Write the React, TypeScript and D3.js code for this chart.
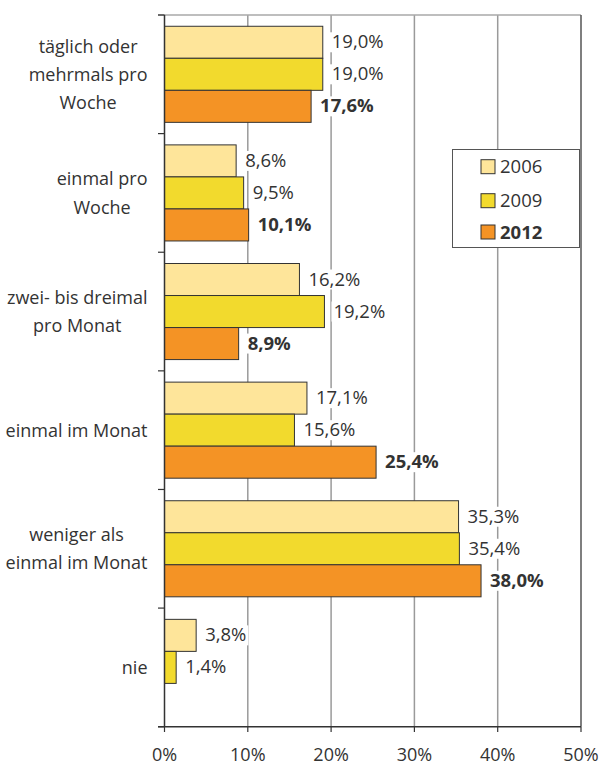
import React, { useEffect, useRef } from "react";
import * as d3 from "d3";

const categories: string[][] = [
  ["täglich oder", "mehrmals pro", "Woche"],
  ["einmal pro", "Woche"],
  ["zwei- bis dreimal", "pro Monat"],
  ["einmal im Monat"],
  ["weniger als", "einmal im Monat"],
  ["nie"],
];
const seriesNames = ["2006", "2009", "2012"];
const values2006 = [19.0, 8.6, 16.2, 17.1, 35.3, 3.8];
const values2009 = [19.0, 9.5, 19.2, 15.6, 35.4, 1.4];
const values2012: (number | null)[] = [17.6, 10.1, 8.9, 25.4, 38.0, null];
const xTicks = [0, 10, 20, 30, 40, 50];
const colors = ["#FEE59A", "#F2DA2D", "#F49325"];

const W = 601;
const H = 765;
const FONT = "'Open Sans', 'Noto Sans', sans-serif";

export default function App() {
  const ref = useRef<SVGSVGElement | null>(null);

  useEffect(() => {
    const svg = d3.select(ref.current);
    svg.selectAll("*").remove();

    const x = d3.scaleLinear().domain([0, 50]).range([164.5, 581]);
    const catIdx = categories.map((_, i) => String(i));
    const y = d3.scaleBand().domain(catIdx).range([15, 726.7]).paddingInner(0).paddingOuter(0);
    const gh = y.bandwidth();
    const inner = d3.scaleBand().domain(seriesNames).range([gh * 0.095, gh * 0.905]).padding(0);

    const series = [values2006, values2009, values2012];

    // gridlines
    svg.append("g")
      .selectAll("line")
      .data(xTicks.filter((t) => t > 0 && t < 50))
      .join("line")
      .attr("x1", (d) => x(d))
      .attr("x2", (d) => x(d))
      .attr("y1", 15)
      .attr("y2", 726.7)
      .attr("stroke", "#9a9a9a")
      .attr("stroke-width", 1.5);

    // top border
    svg.append("line")
      .attr("x1", 158).attr("x2", x(50))
      .attr("y1", 15).attr("y2", 15)
      .attr("stroke", "#a8a8a8").attr("stroke-width", 1.5);
    // right border
    svg.append("line")
      .attr("x1", x(50)).attr("x2", x(50))
      .attr("y1", 15).attr("y2", 726.7)
      .attr("stroke", "#555").attr("stroke-width", 1.5);

    // legend
    const lg = svg.append("g");
    lg.append("rect")
      .attr("x", 452.5).attr("y", 149.5).attr("width", 127).attr("height", 98)
      .attr("fill", "#fff").attr("stroke", "#555").attr("stroke-width", 1);
    const legendY = [166.7, 200.7, 232];
    seriesNames.forEach((s, i) => {
      lg.append("rect")
        .attr("x", 481).attr("y", legendY[i] - 7).attr("width", 14).attr("height", 14)
        .attr("fill", colors[i]).attr("stroke", "#333").attr("stroke-width", 1);
      lg.append("text")
        .attr("x", 500).attr("y", legendY[i] + 6.5)
        .attr("font-family", FONT).attr("font-size", 18.5)
        .attr("font-weight", i === 2 ? 700 : 400)
        .attr("fill", "#333")
        .text(s);
    });

    // bars + labels
    const fmt = (v: number) => v.toFixed(1).replace(".", ",") + "%";
    categories.forEach((_, ci) => {
      const g = svg.append("g").attr("transform", `translate(0,${y(String(ci))})`);
      series.forEach((vals, si) => {
        const v = vals[ci];
        if (v == null) return;
        const by = inner(seriesNames[si])!;
        const bh = inner.bandwidth();
        g.append("rect")
          .attr("x", x(0)).attr("y", by)
          .attr("width", x(v) - x(0)).attr("height", bh)
          .attr("fill", colors[si]).attr("stroke", "#333").attr("stroke-width", 1);
        const bg = g.append("rect").attr("fill", "#fff");
        const t = g.append("text")
          .attr("x", x(v) + 9).attr("y", by + bh / 2 + 6)
          .attr("font-family", FONT).attr("font-size", 18.5)
          .attr("font-weight", si === 2 ? 700 : 400)
          .attr("fill", "#333")
          .text(fmt(v));
        const len = (t.node() as SVGTextElement).getComputedTextLength();
        bg.attr("x", x(v) + 7).attr("y", by + bh / 2 - 10)
          .attr("width", len + 4).attr("height", 20);
      });
    });

    // category labels
    categories.forEach((lines, ci) => {
      const cy = y(String(ci))! + gh / 2;
      const lh = 28.3;
      const g = svg.append("g");
      const texts = lines.map((ln, li) =>
        g.append("text")
          .attr("y", cy + (li - (lines.length - 1) / 2) * lh + 6.5)
          .attr("font-family", FONT).attr("font-size", 18)
          .attr("fill", "#333")
          .attr("text-anchor", "middle")
          .text(ln)
      );
      const widths = texts.map((t) => (t.node() as SVGTextElement).getComputedTextLength());
      const maxW = d3.max(widths) || 0;
      const center = 147.5 - maxW / 2;
      texts.forEach((t) => t.attr("x", center));
    });

    // y axis
    svg.append("line")
      .attr("x1", x(0)).attr("x2", x(0)).attr("y1", 15).attr("y2", 726.7)
      .attr("stroke", "#333").attr("stroke-width", 1.5);
    const bounds = categories.map((_, i) => y(String(i))!).concat([726.7]);
    svg.append("g").selectAll("line").data(bounds).join("line")
      .attr("x1", 158).attr("x2", x(0)).attr("y1", (d) => d).attr("y2", (d) => d)
      .attr("stroke", "#333").attr("stroke-width", 1.2);

    // x axis
    svg.append("line")
      .attr("x1", 158).attr("x2", x(50)).attr("y1", 726.7).attr("y2", 726.7)
      .attr("stroke", "#333").attr("stroke-width", 1.5);
    svg.append("g").selectAll("line").data(xTicks).join("line")
      .attr("x1", (d) => x(d)).attr("x2", (d) => x(d)).attr("y1", 726.7).attr("y2", 732)
      .attr("stroke", "#333").attr("stroke-width", 1.2);
    svg.append("g").selectAll("text").data(xTicks).join("text")
      .attr("x", (d) => x(d)).attr("y", 760.5)
      .attr("text-anchor", "middle")
      .attr("font-family", FONT).attr("font-size", 18)
      .attr("fill", "#333")
      .text((d) => d + "%");
  }, []);

  return (
    <svg
      ref={ref}
      width={W}
      height={H}
      style={{ position: "absolute", left: 0, top: 0, background: "#fff" }}
    />
  );
}
